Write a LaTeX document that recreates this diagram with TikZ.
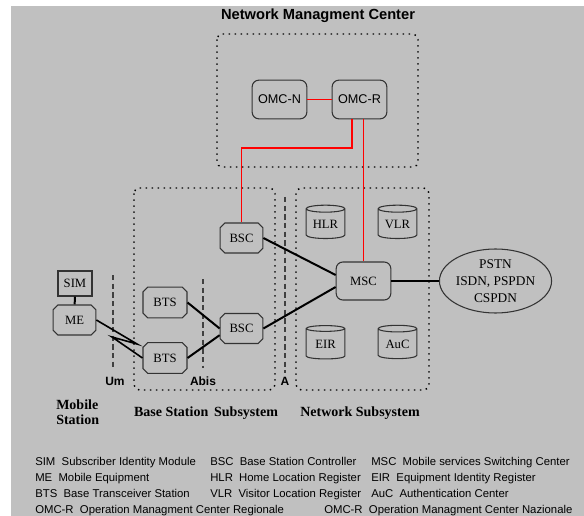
\documentclass[tikz,border=0pt]{standalone}
\usepackage{fontspec}
\setmainfont{Liberation Serif}
\setsansfont{Liberation Sans}
\usetikzlibrary{shapes.geometric,shapes.misc}
\definecolor{panel}{RGB}{192,192,192}
\definecolor{ctrlred}{RGB}{255,0,0}
\tikzset{
  unit/.style={draw=black!80,line width=.8pt,inner sep=1pt,font=\fontsize{9.5}{11}\selectfont},
  chbox/.style={unit,chamfered rectangle,chamfered rectangle xsep=1.8pt,chamfered rectangle ysep=1.8pt,minimum width=32pt,minimum height=22.5pt},
  rbox/.style={unit,rectangle,rounded corners=5pt,minimum width=41pt,minimum height=29pt},
  dbase/.style={unit,cylinder,shape border rotate=90,aspect=.25,minimum width=29pt,minimum height=25pt},
  grpbox/.style={line width=1.1pt,dash pattern=on 1.1pt off 3.4pt,rounded corners=4pt},
  iface/.style={draw=black!75,line width=.8pt,dash pattern=on 4pt off 2.5pt},
  link/.style={line width=1.5pt},
  ctrl/.style={draw=ctrlred,line width=1.2pt},
  ifname/.style={font=\fontsize{9}{10}\sffamily\bfseries,inner sep=0},
  grpname/.style={font=\fontsize{10.5}{11.5}\bfseries,inner sep=0},
  key/.style={anchor=base west,inner sep=0,font=\fontsize{8.5}{10}\sffamily}
}
\begin{document}
\begin{tikzpicture}[x=.75pt,y=-.75pt]
\fill[white] (0,0) rectangle (584,516);
\useasboundingbox (0,0) rectangle (584,516);
\fill[panel] (11,6) rectangle (584,516);

\node[font=\fontsize{11}{12}\sffamily\bfseries] (nmctitle) at (318,16) {Network Managment Center};
\draw[grpbox] (217,34) rectangle (418,167);
\draw[grpbox] (134,188) rectangle (275,390);
\draw[grpbox] (296,188) rectangle (429,390);

\node[rbox,font=\fontsize{9.5}{11}\sffamily] (omcn) at (279.5,99.5) {OMC-N};
\node[rbox,font=\fontsize{9.5}{11}\sffamily] (omcr) at (359.5,99.5) {OMC-R};

\node[draw=black!80,line width=.8pt,minimum width=25.5pt,minimum height=18.75pt,inner sep=1pt,font=\fontsize{9.5}{11}\selectfont] (sim) at (75,283.5) {SIM};
\node[chbox] (me) at (74.5,320) {ME};
\node[chbox,minimum width=33pt,minimum height=23pt] (btsA) at (165,302.5) {BTS};
\node[chbox,minimum width=33pt,minimum height=23pt] (btsB) at (165,358) {BTS};
\node[chbox] (bscA) at (241.5,238) {BSC};
\node[chbox] (bscB) at (241.5,328.5) {BSC};
\node[rbox,minimum height=28.5pt] (msc) at (363.5,281) {MSC};
\node[dbase] (hlr) at (325.5,224.5) {HLR};
\node[dbase] (vlr) at (397.5,224.5) {VLR};
\node[dbase] (eir) at (325.5,344.5) {EIR};
\node[dbase] (auc) at (397.5,344.5) {AuC};
\node[unit,ellipse,minimum width=80pt,minimum height=48pt,inner sep=0,align=center,font=\fontsize{10}{12.5}\selectfont] (pstn) at (495.5,281) {PSTN\\ISDN, PSPDN\\CSPDN};

\coordinate (umtop) at (113,275); \coordinate (umbot) at (113,368);
\coordinate (abistop) at (203,279); \coordinate (abisbot) at (203,368);
\coordinate (atop) at (285,197); \coordinate (abot) at (285,373);
\draw[iface] (umtop) -- (umbot);
\draw[iface] (abistop) -- (abisbot);
\draw[iface] (atop) -- (abot);
\node[ifname] (um) at (115,381) {Um};
\node[ifname] (abis) at (203,381) {Abis};
\node[ifname] (aname) at (285,381) {A};

\draw[ctrl] (omcn) -- (omcr);
\coordinate (omcbend) at (300,148);
\draw[ctrl] ([xshift=-5.6pt]omcr.south) |- (omcbend -| bscA.north) -- (bscA.north);
\draw[ctrl] (omcr.south -| msc.north) -- (msc.north);

\coordinate (boltA) at (137,344);
\coordinate (boltB) at (112,337);
\draw[link] (sim) -- (me);
\draw[link,line width=1.2pt] (me.east) -- (boltA) -- (boltB) -- (btsB.west);
\draw[link] (btsA.east) -- (bscB.west);
\draw[link] (btsB.east) -- ([yshift=-5pt]bscB.west);
\draw[link] (bscA.east) -- ([yshift=4.5pt]msc.west);
\draw[link] (bscB.east) -- ([yshift=-4.5pt]msc.west);
\draw[link] (msc.east) -- (pstn.west);

\node[grpname,align=left,anchor=west,font=\fontsize{10.5}{11.25}\bfseries] (mslabel) at (56,412) {Mobile\\Station};
\node[grpname] (bsslabel) at (206,413) {Base Station\, Subsystem};
\node[grpname] (nsslabel) at (360,413) {Network Subsystem};

\node[key] (ksim) at (35,465) {SIM~ Subscriber Identity Module};
\node[key] (kme) at (35,481) {ME~ Mobile Equipment};
\node[key] (kbts) at (35,497) {BTS~ Base Transceiver Station};
\node[key] (komcr) at (35,513) {OMC-R~ Operation Managment Center Regionale};
\node[key] (kbsc) at (210,465) {BSC~ Base Station Controller};
\node[key] (khlr) at (210,481) {HLR~ Home Location Register};
\node[key] (kvlr) at (210,497) {VLR~ Visitor Location Register};
\node[key] (kmsc) at (371,465) {MSC~ Mobile services Switching Center};
\node[key] (keir) at (371,481) {EIR~ Equipment Identity Register};
\node[key] (kauc) at (371,497) {AuC~ Authentication Center};
\node[key] (komcn) at (324,513) {OMC-R~ Operation Managment Center Nazionale};
\end{tikzpicture}
\end{document}
